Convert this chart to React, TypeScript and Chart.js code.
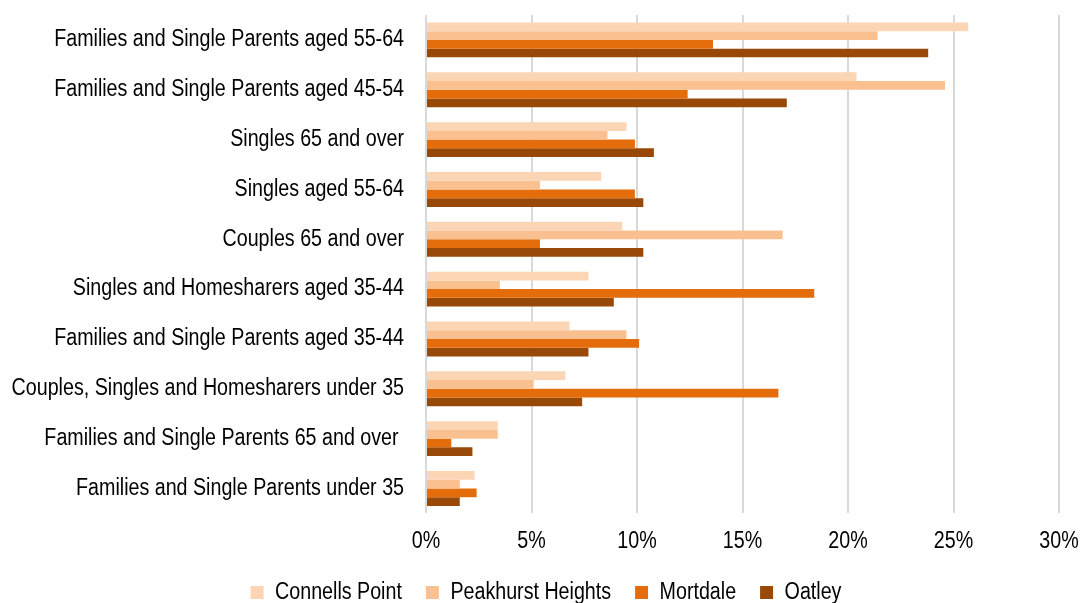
import React, { useEffect, useRef } from "react";
import { Chart, registerables } from "chart.js";

Chart.register(...registerables);

const categories = [
  "Families and Single Parents aged 55-64",
  "Families and Single Parents aged 45-54",
  "Singles 65 and over",
  "Singles aged 55-64",
  "Couples 65 and over",
  "Singles and Homesharers aged 35-44",
  "Families and Single Parents aged 35-44",
  "Couples, Singles and Homesharers under 35",
  "Families and Single Parents 65 and over ",
  "Families and Single Parents under 35",
];

const connellsPoint = [25.7, 20.4, 9.5, 8.3, 9.3, 7.7, 6.8, 6.6, 3.4, 2.3];
const peakhurstHeights = [21.4, 24.6, 8.6, 5.4, 16.9, 3.5, 9.5, 5.1, 3.4, 1.6];
const mortdale = [13.6, 12.4, 9.9, 9.9, 5.4, 18.4, 10.1, 16.7, 1.2, 2.4];
const oatley = [23.8, 17.1, 10.8, 10.3, 10.3, 8.9, 7.7, 7.4, 2.2, 1.6];

const xTicks = [0, 5, 10, 15, 20, 25, 30];

const seriesNames = ["Connells Point", "Peakhurst Heights", "Mortdale", "Oatley"];
const seriesColors = ["#FCD5B5", "#FAC090", "#E46C0A", "#984807"];

// horizontal condensing of the text, to mimic a narrow sans face
const NARROW = 0.855;

export default function App() {
  const ref = useRef<HTMLCanvasElement | null>(null);

  useEffect(() => {
    const canvas = ref.current;
    if (!canvas) return;
    const ctx = canvas.getContext("2d") as CanvasRenderingContext2D;
    const origFill = ctx.fillText;
    const origMeasure = ctx.measureText;
    (ctx as any).fillText = function (t: string, x: number, y: number) {
      ctx.save();
      ctx.translate(x, y);
      ctx.scale(NARROW, 1);
      origFill.call(ctx, t, 0, 0);
      ctx.restore();
    };
    (ctx as any).measureText = function (t: string) {
      const m = origMeasure.call(ctx, t);
      return {
        width: m.width * NARROW,
        actualBoundingBoxAscent: m.actualBoundingBoxAscent,
        actualBoundingBoxDescent: m.actualBoundingBoxDescent,
        actualBoundingBoxLeft: m.actualBoundingBoxLeft * NARROW,
        actualBoundingBoxRight: m.actualBoundingBoxRight * NARROW,
      };
    };

    const values = [connellsPoint, peakhurstHeights, mortdale, oatley];
    const font = { family: "'Liberation Sans', Arial, sans-serif", size: 23 };
    const chart = new Chart(canvas, {
      type: "bar",
      data: {
        labels: categories,
        datasets: values.map((v, i) => ({
          label: seriesNames[i],
          data: v,
          backgroundColor: seriesColors[i],
          borderWidth: 0,
          categoryPercentage: 0.7,
          barPercentage: 1.0,
        })),
      },
      options: {
        indexAxis: "y",
        animation: false,
        responsive: false,
        maintainAspectRatio: false,
        layout: { padding: { top: 7, left: 10, right: 0, bottom: -11 } },
        plugins: {
          legend: {
            position: "bottom",
            labels: {
              font,
              color: "#000",
              boxWidth: 13,
              boxHeight: 13,
              padding: 24,
            },
          },
          tooltip: { enabled: false },
        },
        scales: {
          x: {
            min: 0,
            max: 30,
            afterBuildTicks: (axis: any) => {
              axis.ticks = xTicks.map((v) => ({ value: v }));
            },
            afterFit: (axis: any) => {
              axis.paddingLeft = 0;
              axis.paddingRight = 23;
              axis.height = axis.height - 12;
            },
            ticks: {
              font,
              color: "#000",
              padding: 14,
              callback: (v: any) => v + "%",
            },
            grid: { color: "#D9D9D9", lineWidth: 2, drawTicks: false },
            border: { display: false },
          },
          y: {
            afterFit: (axis: any) => {
              axis.paddingTop = 0;
              axis.paddingBottom = 0;
              axis.width = 416;
            },
            ticks: { font, color: "#000", padding: 22 },
            grid: { display: false, drawTicks: false },
            border: { display: false },
          },
        },
      },
    });
    return () => {
      chart.destroy();
      (ctx as any).fillText = origFill;
      (ctx as any).measureText = origMeasure;
    };
  }, []);

  return (
    <canvas
      ref={ref}
      width={1082}
      height={595}
      style={{ display: "block", position: "absolute", left: 0, top: 8 }}
    />
  );
}
